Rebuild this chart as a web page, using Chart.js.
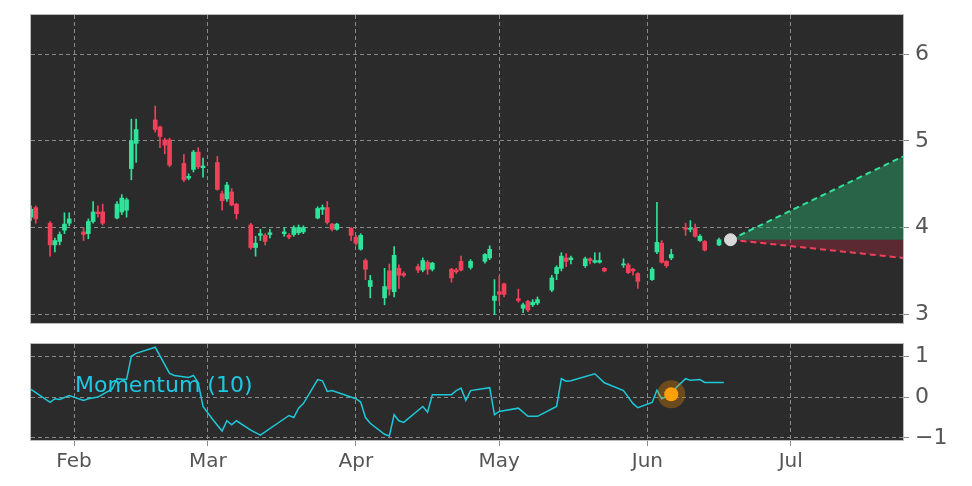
<!DOCTYPE html>
<html><head><meta charset="utf-8">
<script src="https://cdn.jsdelivr.net/npm/chart.js@4/dist/chart.umd.min.js"></script>
<style>body{margin:0;background:#fff;width:972px;height:486px;overflow:hidden;position:relative}
#a{position:absolute;left:0;top:0;width:972px;height:330px}#b{position:absolute;left:0;top:330px;width:972px;height:156px}</style>
</head><body><div id="a"><canvas id="c1"></canvas></div><div id="b"><canvas id="c2"></canvas></div>
<script>
// day-of-year (Jan 1 = 1)
const days=[23,24,27,28,29,30,31,34,35,36,37,38,41,42,43,44,45,49,50,51,52,55,56,57,58,59,62,63,64,65,66,69,70,71,72,73,76,77,78,79,80,83,84,85,86,87,90,91,92,93,94,97,98,99,100,101,104,105,106,107,111,112,113,115,118,119,120,121,122,125,126,127,128,129,132,133,134,135,136,139,140,141,142,143,147,148,149,150,153,154,155,156,157,160,161,162,163,164,167];
const opens=[4.12,4.23,4.05,3.80,3.84,3.97,4.05,3.95,3.93,4.07,4.18,4.18,4.11,4.18,4.20,4.68,4.97,5.24,5.16,5.01,5.01,4.74,4.57,4.67,4.87,4.69,4.75,4.39,4.33,4.41,4.27,4.03,3.77,3.91,3.91,3.92,3.93,3.91,3.92,3.94,3.95,4.11,4.21,4.23,4.04,3.98,3.99,3.89,3.75,3.62,3.32,3.19,3.50,3.26,3.53,3.47,3.55,3.51,3.60,3.52,3.52,3.51,3.61,3.54,3.61,3.65,3.16,3.26,3.35,3.18,3.07,3.15,3.11,3.13,3.28,3.47,3.53,3.65,3.63,3.56,3.64,3.60,3.60,3.53,3.57,3.57,3.52,3.47,3.40,3.72,3.82,3.61,3.65,4.00,3.98,3.99,3.85,3.84,3.80];
const highs=[4.25,4.25,4.07,3.88,3.95,4.17,4.17,4.00,4.10,4.30,4.25,4.27,4.30,4.38,4.34,5.25,5.25,5.40,5.17,5.03,5.03,4.84,4.62,4.89,4.92,4.80,4.82,4.42,4.52,4.45,4.28,4.05,3.90,3.98,3.93,3.98,4.00,3.93,4.02,4.03,4.02,4.24,4.26,4.30,4.05,4.05,4.00,3.91,3.93,3.64,3.45,3.53,3.58,3.78,3.57,3.49,3.58,3.65,3.62,3.60,3.53,3.53,3.67,3.63,3.70,3.79,3.40,3.44,3.36,3.29,3.13,3.16,3.17,3.20,3.45,3.56,3.71,3.70,3.67,3.66,3.65,3.71,3.71,3.54,3.64,3.59,3.53,3.48,3.54,4.29,3.85,3.62,3.75,4.05,4.08,4.04,3.92,3.85,3.88];
const lows=[4.08,4.05,3.67,3.72,3.80,3.93,4.02,3.85,3.87,4.05,4.12,4.03,4.10,4.15,4.12,4.55,4.75,5.10,4.92,4.85,4.70,4.53,4.55,4.64,4.68,4.58,4.43,4.20,4.30,4.25,4.10,3.75,3.67,3.85,3.80,3.88,3.90,3.87,3.90,3.92,3.93,4.10,4.15,4.04,3.96,3.97,3.85,3.80,3.74,3.40,3.19,3.11,3.22,3.20,3.30,3.43,3.48,3.49,3.46,3.50,3.37,3.47,3.50,3.52,3.59,3.63,3.00,3.15,3.20,3.14,3.02,3.03,3.09,3.11,3.26,3.40,3.50,3.55,3.58,3.54,3.58,3.59,3.59,3.49,3.54,3.47,3.45,3.30,3.39,3.70,3.59,3.54,3.63,3.91,3.95,3.89,3.84,3.73,3.79];
const closes=[4.21,4.10,3.80,3.85,3.92,4.04,4.10,3.92,4.07,4.18,4.16,4.05,4.27,4.34,4.32,5.00,5.13,5.13,5.05,4.95,4.72,4.55,4.59,4.87,4.70,4.71,4.44,4.31,4.49,4.26,4.16,3.77,3.82,3.93,3.84,3.94,3.95,3.89,4.00,4.00,4.00,4.22,4.23,4.06,3.98,4.04,3.91,3.82,3.91,3.52,3.39,3.32,3.29,3.68,3.45,3.45,3.51,3.62,3.52,3.59,3.42,3.49,3.51,3.61,3.69,3.75,3.21,3.23,3.23,3.16,3.11,3.05,3.14,3.17,3.42,3.54,3.67,3.61,3.65,3.64,3.62,3.62,3.62,3.50,3.58,3.48,3.50,3.38,3.52,3.83,3.60,3.56,3.69,3.98,3.99,3.90,3.90,3.74,3.86];
const momDays=[23,27,28,29,31,34,35,37,40,41,43,44,45,49,52,53,56,57,58,59,61,63,64,65,66,69,71,77,78,79,80,83,84,85,86,91,92,93,94,97,98,99,100,101,105,106,107,111,112,113,114,115,119,120,121,125,127,129,133,134,135,136,141,143,147,149,150,153,154,155,157,158,160,161,163,164,168];
const momVals=[0.19,-0.13,-0.04,-0.06,0.04,-0.08,-0.04,0,0.2,0.45,0.43,1.0,1.07,1.22,0.58,0.53,0.48,0.53,0.35,-0.23,-0.54,-0.83,-0.58,-0.68,-0.58,-0.81,-0.93,-0.45,-0.5,-0.27,-0.16,0.43,0.4,0.14,0.16,-0.04,-0.12,-0.5,-0.64,-0.91,-0.95,-0.43,-0.58,-0.62,-0.23,-0.37,0.06,0.06,0.16,0.22,-0.08,0.16,0.23,-0.43,-0.35,-0.27,-0.47,-0.47,-0.23,0.45,0.39,0.4,0.57,0.35,0.16,-0.16,-0.26,-0.13,0.17,-0.04,0.07,0.23,0.45,0.41,0.43,0.36,0.36];
const monthTicks=[32,60,91,121,152,182];
const monthLabels=['Feb','Mar','Apr','May','Jun','Jul'];
const lastDay=169.4, lastPrice=3.86, endDay=205.5, upEnd=4.82, downEnd=3.65;
const momDot={x:157,y:0.07};

const G='#2fe39a', R='#f0405a', XMIN=23, XMAX=205.5;
const bgPlug={id:'bg',beforeDraw(ch){const a=ch.chartArea,c=ch.ctx;c.save();c.fillStyle='#2b2b2b';c.fillRect(a.left,a.top,a.right-a.left,a.bottom-a.top);c.restore();},
 afterDraw(ch){const a=ch.chartArea,c=ch.ctx;c.save();c.strokeStyle='#bbb';c.lineWidth=1;c.strokeRect(a.left-0.5,a.top-0.5,a.right-a.left+1,a.bottom-a.top+1);c.restore();}};
const grid=(ticks)=>({color:'#8a8a8a',lineWidth:1,offset:false,drawTicks:ticks,tickColor:'#888',tickLength:6,tickBorderDash:[]});
const border={display:false,dash:[4,3]};
const xScale=(show)=>({type:'linear',min:XMIN,max:XMAX,offset:false,afterBuildTicks(s){s.ticks=monthTicks.map(v=>({value:v}));},
  ticks:{display:show,color:'#555',font:{size:20,family:'DejaVu Sans'},callback:(v)=>monthLabels[monthTicks.indexOf(v)]||'',autoSkip:false,maxRotation:0,padding:4},
  grid:grid(show),border:border,afterFit(s){s.height=show?46:0;s.paddingLeft=0;s.paddingRight=0;}});
const yFit=(s)=>{s.width=69;s.paddingTop=0;s.paddingBottom=0;};
const colors=days.map((d,i)=>closes[i]>=opens[i]?G:R);
new Chart(document.getElementById('c1'),{type:'bar',
 data:{datasets:[
  {type:'line',data:[{x:lastDay,y:lastPrice},{x:endDay,y:lastPrice}],borderColor:'rgba(0,0,0,0)',pointRadius:0,fill:false,order:5},
  {type:'line',data:[{x:lastDay,y:lastPrice},{x:endDay,y:upEnd}],borderColor:'#2fe39a',borderDash:[6,4],borderWidth:2,pointRadius:0,fill:{target:0},backgroundColor:'rgba(40,170,110,0.45)',order:4},
  {type:'line',data:[{x:lastDay,y:lastPrice},{x:endDay,y:downEnd}],borderColor:'#f0405a',borderDash:[6,4],borderWidth:2,pointRadius:0,fill:{target:0},backgroundColor:'rgba(150,40,60,0.45)',order:4},
  {data:days.map((d,i)=>({x:d,y:[lows[i],highs[i]]})),backgroundColor:colors,barThickness:1,grouped:false,order:3},
  {data:days.map((d,i)=>({x:d,y:[opens[i],closes[i]]})),backgroundColor:colors,barThickness:4,minBarLength:1,grouped:false,order:2},
  {type:'scatter',data:[{x:lastDay,y:lastPrice}],pointRadius:6,backgroundColor:'#d8d8d8',borderColor:'#d8d8d8',order:1}
 ]},
 options:{responsive:true,maintainAspectRatio:false,animation:false,layout:{padding:{left:31,top:15,right:0,bottom:7}},
  plugins:{legend:{display:false},tooltip:{enabled:false}},
  scales:{x:xScale(false),y:{position:'right',min:2.9,max:6.45,afterBuildTicks(s){s.ticks=[3,4,5,6].map(v=>({value:v}));},
   ticks:{color:'#555',font:{size:22,family:'DejaVu Sans'},padding:6},grid:grid(true),border:border,afterFit:yFit}}},
 plugins:[bgPlug]});
new Chart(document.getElementById('c2'),{type:'line',
 data:{datasets:[
  {type:'scatter',data:[momDot],pointRadius:[14],backgroundColor:'rgba(255,150,0,0.3)',borderWidth:0,order:2},
  {type:'scatter',data:[momDot],pointRadius:7,backgroundColor:'#ff9f0a',borderWidth:0,order:1},
  {data:momDays.map((d,i)=>({x:d,y:momVals[i]})),borderColor:'#1ec8d8',borderWidth:1.5,pointRadius:0,tension:0,order:3}
 ]},
 options:{responsive:true,maintainAspectRatio:false,animation:false,layout:{padding:{left:31,top:9,right:0,bottom:0}},
  plugins:{legend:{display:false},tooltip:{enabled:false}},
  scales:{x:xScale(true),y:{position:'right',min:-1.05,max:1.3,afterBuildTicks(s){s.ticks=[-1,0,1].map(v=>({value:v}));},
   ticks:{color:'#555',font:{size:22,family:'DejaVu Sans'},padding:6,callback:v=>v<0?'\u2212'+Math.abs(v):String(v)},grid:grid(true),border:border,afterFit:yFit}}},
 plugins:[bgPlug,{id:'lbl',afterDatasetsDraw(ch){const c=ch.ctx;c.save();c.fillStyle='#1ec8e0';c.font='22px DejaVu Sans';c.textBaseline='middle';c.fillText('Momentum (10)',75,56);c.restore();}}]});
</script></body></html>
